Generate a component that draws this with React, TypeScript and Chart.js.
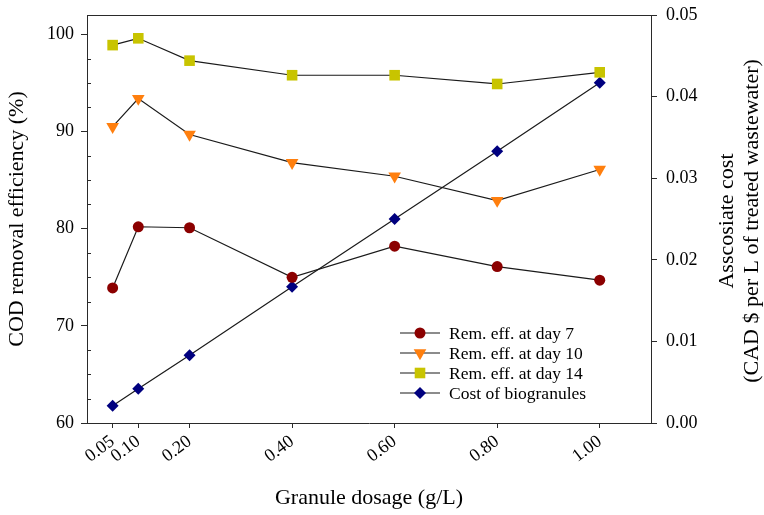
import React, { useEffect, useRef } from 'react';
import { Chart, registerables } from 'chart.js';

Chart.register(...registerables);

// ---- data ----
const doses = [0.05, 0.1, 0.2, 0.4, 0.6, 0.8, 1.0];
const day7 = [73.9, 80.2, 80.1, 75.0, 78.2, 76.1, 74.7];
const day10 = [90.5, 93.4, 89.7, 86.8, 85.4, 82.9, 86.1];
const day14 = [98.9, 99.6, 97.3, 95.8, 95.8, 94.9, 96.1];
const cost = [0.0021, 0.0042, 0.0083, 0.0167, 0.025, 0.0333, 0.0417];

const leftTicks = [60, 70, 80, 90, 100];
const leftMinorTicks = [62.5, 65, 67.5, 72.5, 75, 77.5, 82.5, 85, 87.5, 92.5, 95, 97.5];
const rightTicks = [0, 0.01, 0.02, 0.03, 0.04, 0.05];

const seriesLabels = [
  'Rem. eff. at day 7',
  'Rem. eff. at day 10',
  'Rem. eff. at day 14',
  'Cost of biogranules',
];
const seriesColors = ['#8b0000', '#ff7f0e', '#c8c400', '#00007f'];
const seriesStyles = ['circle', 'triangleDown', 'rect', 'rectRot'];

const xTitle = 'Granule dosage (g/L)';
const yTitle = 'COD removal efficiency (%)';
const y1Title = ['Asscosiate cost', '(CAD $ per L of treated wastewater)'];

const FONT = '"Liberation Serif", "Times New Roman", serif';
const AXIS = '#2a2a2a';
const LINE = '#1a1a1a';

function drawMarker(ctx: CanvasRenderingContext2D, style: string, x: number, y: number, color: string) {
  ctx.fillStyle = color;
  ctx.beginPath();
  if (style === 'circle') {
    ctx.arc(x, y, 5.5, 0, Math.PI * 2);
  } else if (style === 'triangleDown') {
    const r = 7.3;
    ctx.moveTo(x, y + r);
    ctx.lineTo(x - r * Math.sin(Math.PI / 3), y - r / 2);
    ctx.lineTo(x + r * Math.sin(Math.PI / 3), y - r / 2);
    ctx.closePath();
  } else if (style === 'rect') {
    ctx.rect(x - 5.3, y - 5.3, 10.6, 10.6);
  } else {
    const r = 6;
    ctx.moveTo(x - r, y);
    ctx.lineTo(x, y - r);
    ctx.lineTo(x + r, y);
    ctx.lineTo(x, y + r);
    ctx.closePath();
  }
  ctx.fill();
}

const decorPlugin = {
  id: 'decor',
  afterDraw(chart: any) {
    const { ctx, chartArea: a, scales } = chart;
    ctx.save();
    // top frame line
    ctx.strokeStyle = AXIS;
    ctx.lineWidth = 1;
    ctx.beginPath();
    ctx.moveTo(a.left, Math.round(a.top) + 0.5);
    ctx.lineTo(a.right, Math.round(a.top) + 0.5);
    ctx.stroke();
    // minor ticks (inside) on left axis
    ctx.beginPath();
    for (const v of leftMinorTicks) {
      const py = Math.round(scales.y.getPixelForValue(v)) + 0.5;
      ctx.moveTo(a.left, py);
      ctx.lineTo(a.left + 4, py);
    }
    ctx.stroke();

    // right axis title (reads bottom to top)
    ctx.fillStyle = '#000';
    ctx.font = `22px ${FONT}`;
    ctx.textAlign = 'center';
    ctx.textBaseline = 'middle';
    const cy = (a.top + a.bottom) / 2 + 2;
    ctx.save();
    ctx.translate(a.right + 76, cy);
    ctx.rotate(-Math.PI / 2);
    y1Title.forEach((t, i) => ctx.fillText(t, 0, i * 25));
    ctx.restore();

    // legend
    ctx.font = `17.5px ${FONT}`;
    ctx.textAlign = 'left';
    ctx.textBaseline = 'middle';
    const lx = a.left + 313;
    seriesLabels.forEach((label, i) => {
      const ly = a.bottom - 90 + i * 20;
      ctx.strokeStyle = LINE;
      ctx.lineWidth = 1.2;
      ctx.beginPath();
      ctx.moveTo(lx, ly);
      ctx.lineTo(lx + 40, ly);
      ctx.stroke();
      drawMarker(ctx, seriesStyles[i], lx + 20, ly, seriesColors[i]);
      ctx.fillStyle = '#000';
      ctx.fillText(label, lx + 49, ly + 1);
    });
    ctx.restore();
  },
};

function pointStyleOf(i: number) {
  const s = seriesStyles[i];
  if (s === 'triangleDown') return 'triangle';
  return s;
}

function noPad(s: any) {
  s.paddingTop = 0;
  s.paddingBottom = 0;
}

export default function App() {
  const ref = useRef<HTMLCanvasElement | null>(null);

  useEffect(() => {
    if (!ref.current) return;
    const series = [day7, day10, day14, cost];
    const radii = [5.5, 7.3, 7.5, 6];
    const datasets = series.map((vals, i) => ({
      label: seriesLabels[i],
      data: vals.map((v, j) => ({ x: doses[j], y: v })),
      yAxisID: i === 3 ? 'y1' : 'y',
      borderColor: LINE,
      borderWidth: 1.2,
      pointStyle: pointStyleOf(i),
      pointRotation: seriesStyles[i] === 'triangleDown' ? 180 : 0,
      pointRadius: radii[i],
      pointBackgroundColor: seriesColors[i],
      pointBorderColor: seriesColors[i],
      pointBorderWidth: 0,
      tension: 0,
      fill: false,
    }));

    const tickFont = { family: FONT, size: 18 };
    const titleFont = { family: FONT, size: 22 };

    const chart = new Chart(ref.current, {
      type: 'line',
      data: { datasets },
      plugins: [decorPlugin],
      options: {
        responsive: false,
        animation: false,
        layout: { padding: { top: 15, left: 0, right: 0, bottom: 0 } },
        plugins: { legend: { display: false }, tooltip: { enabled: false } },
        scales: {
          x: {
            type: 'linear',
            min: 0,
            max: 1.1,
            afterBuildTicks: (s: any) => {
              s.ticks = doses.map((v) => ({ value: v }));
            },
            afterFit: (s: any) => {
              s.height = 92;
              s.paddingLeft = 0;
              s.paddingRight = 0;
            },
            ticks: {
              autoSkip: false,
              minRotation: 37,
              maxRotation: 37,
              padding: 3,
              color: '#000',
              font: tickFont,
              callback: (v: any) => Number(v).toFixed(2),
            },
            grid: { display: true, drawOnChartArea: false, tickLength: 5, color: AXIS },
            border: { display: true, color: AXIS, width: 1 },
            title: {
              display: true,
              text: xTitle,
              color: '#000',
              font: titleFont,
              padding: { top: 0, bottom: 4 },
            },
          },
          y: {
            type: 'linear',
            position: 'left',
            min: 60,
            max: 102,
            afterBuildTicks: (s: any) => {
              s.ticks = leftTicks.map((v) => ({ value: v }));
            },
            afterFit: (s: any) => {
              s.width = 87;
              noPad(s);
            },
            ticks: {
              padding: 7,
              color: '#000',
              font: tickFont,
              callback: (v: any) => String(v),
            },
            grid: { display: true, drawOnChartArea: false, tickLength: 6, color: AXIS },
            border: { display: true, color: AXIS, width: 1 },
            title: {
              display: true,
              text: yTitle,
              color: '#000',
              font: titleFont,
              padding: { top: 4, bottom: 0 },
            },
          },
          y1: {
            type: 'linear',
            position: 'right',
            min: 0,
            max: 0.05,
            afterBuildTicks: (s: any) => {
              s.ticks = rightTicks.map((v) => ({ value: v }));
            },
            afterFit: (s: any) => {
              s.width = 113;
              noPad(s);
            },
            ticks: {
              padding: 9,
              color: '#000',
              font: tickFont,
              callback: (v: any) => Number(v).toFixed(2),
            },
            grid: { display: true, drawOnChartArea: false, tickLength: 6, color: AXIS },
            border: { display: true, color: AXIS, width: 1 },
          },
        },
      },
    } as any);

    return () => chart.destroy();
  }, []);

  return (
    <div style={{ position: 'absolute', left: 0, top: 0, width: 764, height: 515, background: '#fff' }}>
      <canvas ref={ref} width={764} height={515} style={{ display: 'block' }} />
    </div>
  );
}
